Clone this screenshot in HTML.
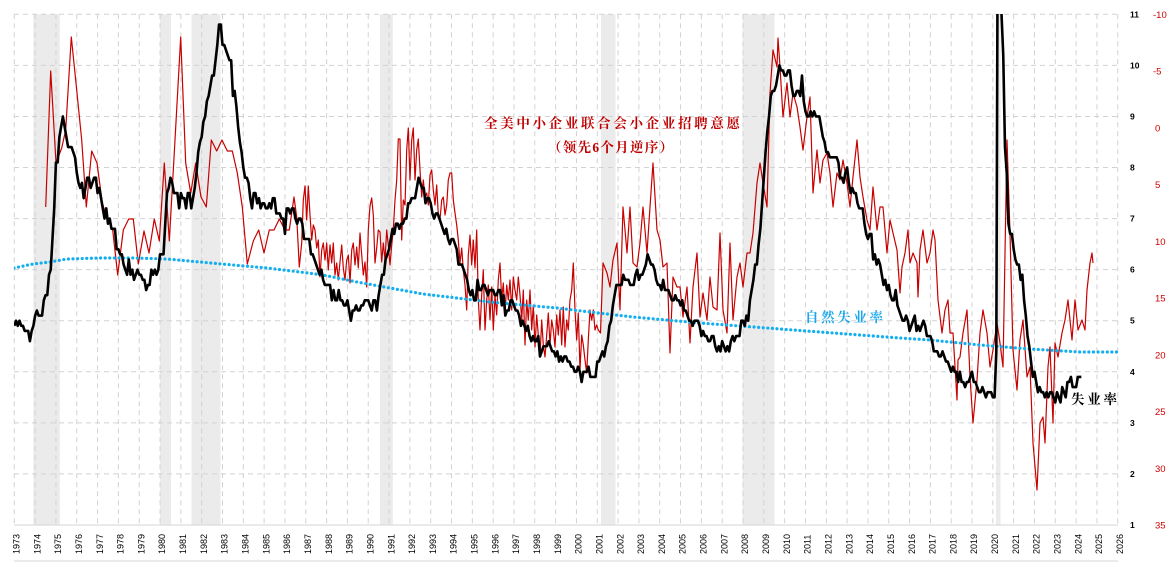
<!DOCTYPE html>
<html>
<head>
<meta charset="utf-8">
<style>
  html,body{margin:0;padding:0;background:#fff;}
  svg{display:block;}
  .yr{font-family:"Liberation Sans",sans-serif;font-size:9px;fill:#000;}
  .lb{font-family:"Liberation Sans",sans-serif;font-size:8.5px;font-weight:bold;fill:#000;}
  .rb{font-family:"Liberation Sans",sans-serif;font-size:9.5px;fill:#d00000;}
  .cn{font-family:"Liberation Serif","Noto Serif CJK SC",serif;font-weight:bold;}
</style>
</head>
<body>
<svg id="chart" width="1176" height="571" viewBox="0 0 1176 571" xmlns="http://www.w3.org/2000/svg">
  <defs>
    <clipPath id="plot"><rect x="14" y="14" width="1104" height="511"/></clipPath>
  </defs>
  <g id="bands"></g>
  <g id="grid"></g>
  <g id="axes"></g>
  <g clip-path="url(#plot)">
    <polyline id="red" fill="none" stroke="#c80000" stroke-width="1.2" stroke-linejoin="round"/>
    <polyline id="blue" fill="none" stroke="#12aff0" stroke-width="3.2" stroke-linecap="round" stroke-dasharray="0 4.6"/>
    <polyline id="black" fill="none" stroke="#000" stroke-width="2.6" stroke-linejoin="round"/>
  </g>
  <text class="cn" x="484" y="128" font-size="13.5" fill="#c00000" textLength="256" lengthAdjust="spacing">全美中小企业联合会小企业招聘意愿</text>
  <text class="cn" x="548" y="152" font-size="13.5" fill="#c00000" textLength="125" lengthAdjust="spacing">（领先6个月逆序）</text>
  <text class="cn" x="805" y="322" font-size="13.5" fill="#1ca8e8" textLength="78" lengthAdjust="spacing">自然失业率</text>
  <text class="cn" x="1071" y="404" font-size="13.5" fill="#000" textLength="46" lengthAdjust="spacing">失业率</text>
</svg>
<script>
(function(){
  var NS="http://www.w3.org/2000/svg";
  var X0=14.3, XS=20.82, Y0=525, YS=51.07;
  function xt(t){return X0+(t-1973)*XS;}
  function yu(u){return Y0-(u-1)*YS;}
  function el(tag,attrs,parent,txt){
    var e=document.createElementNS(NS,tag);
    for(var k in attrs){e.setAttribute(k,attrs[k]);}
    if(txt!==undefined){e.textContent=txt;}
    parent.appendChild(e);return e;
  }
  // recession bands
  var bands=[[33.4,59.8],[160,171],[191.5,220.5],[380,392.8],[601,615.5],[742.5,774.5],[996,1000.5]];
  var gb=document.getElementById("bands");
  bands.forEach(function(b){el("rect",{x:b[0],y:14.3,width:b[1]-b[0],height:525-14.3,fill:"#ebebeb"},gb);});
  // grid
  var gg=document.getElementById("grid");
  for(var i=0;i<=53;i++){
    var x=(X0+i*XS).toFixed(2);
    el("line",{x1:x,y1:14.3,x2:x,y2:525,stroke:"#d2d2d2","stroke-width":1,"stroke-dasharray":"5 4"},gg);
  }
  for(var u=2;u<=11;u++){
    var y=yu(u).toFixed(2);
    el("line",{x1:14,y1:y,x2:1118,y2:y,stroke:"#d2d2d2","stroke-width":1,"stroke-dasharray":"5 4"},gg);
  }
  var ga=document.getElementById("axes");
  el("line",{x1:14,y1:525,x2:1118,y2:525,stroke:"#d6d6d6","stroke-width":1},ga);
  el("line",{x1:14,y1:561,x2:1118,y2:561,stroke:"#d6d6d6","stroke-width":1},ga);
  // year labels
  for(var i=0;i<=53;i++){
    var x=X0+i*XS+5.2;
    el("text",{"class":"yr",x:0,y:0,transform:"translate("+x.toFixed(2)+",554) rotate(-90)"},ga,String(1973+i));
  }
  // left (black) axis labels
  for(var u=1;u<=11;u++){
    el("text",{"class":"lb",x:1130,y:(yu(u)+3).toFixed(2)},ga,String(u));
  }
  // right (red) axis labels
  for(var v=-10;v<=35;v+=5){
    var y=14.3+(v+10)*11.353;
    el("text",{"class":"rb",x:(v<0?1153:1155),y:(y+3.5).toFixed(2)},ga,String(v));
  }
  // unemployment data
  var U={
1973:"4.9 5.0 4.9 5.0 4.9 4.9 4.8 4.8 4.8 4.6 4.8 4.9",
1974:"5.1 5.2 5.1 5.1 5.1 5.4 5.5 5.5 5.9 6.0 6.6 7.2",
1975:"8.1 8.1 8.6 8.8 9.0 8.8 8.6 8.4 8.4 8.4 8.3 8.2",
1976:"7.9 7.7 7.6 7.7 7.4 7.6 7.8 7.8 7.6 7.7 7.8 7.8",
1977:"7.5 7.6 7.4 7.2 7.0 7.2 6.9 7.0 6.8 6.8 6.8 6.4",
1978:"6.4 6.3 6.3 6.1 6.0 5.9 6.2 5.9 6.0 5.8 5.9 6.0",
1979:"5.9 5.9 5.8 5.8 5.6 5.7 5.7 6.0 5.9 6.0 5.9 6.0",
1980:"6.3 6.3 6.3 6.9 7.5 7.6 7.8 7.7 7.5 7.5 7.5 7.2",
1981:"7.5 7.4 7.4 7.2 7.5 7.5 7.2 7.4 7.6 7.9 8.3 8.5",
1982:"8.6 8.9 9.0 9.3 9.4 9.6 9.8 9.8 10.1 10.4 10.8 10.8",
1983:"10.4 10.4 10.3 10.2 10.1 10.1 9.4 9.5 9.2 8.8 8.5 8.3",
1984:"8.0 7.8 7.8 7.7 7.4 7.2 7.5 7.5 7.3 7.4 7.2 7.3",
1985:"7.3 7.2 7.2 7.3 7.2 7.4 7.4 7.1 7.1 7.1 7.0 7.0",
1986:"6.7 7.2 7.2 7.1 7.2 7.2 7.0 6.9 7.0 7.0 6.9 6.6",
1987:"6.6 6.6 6.6 6.3 6.3 6.2 6.1 6.0 5.9 6.0 5.8 5.7",
1988:"5.7 5.7 5.7 5.4 5.6 5.4 5.4 5.6 5.4 5.4 5.3 5.3",
1989:"5.4 5.2 5.0 5.2 5.2 5.3 5.2 5.2 5.3 5.3 5.4 5.4",
1990:"5.4 5.3 5.2 5.4 5.4 5.2 5.5 5.7 5.9 5.9 6.2 6.3",
1991:"6.4 6.6 6.8 6.7 6.9 6.9 6.8 6.9 6.9 7.0 7.0 7.3",
1992:"7.3 7.4 7.4 7.4 7.6 7.8 7.7 7.6 7.6 7.3 7.4 7.4",
1993:"7.3 7.1 7.0 7.1 7.1 7.0 6.9 6.8 6.7 6.8 6.6 6.5",
1994:"6.6 6.6 6.5 6.4 6.1 6.1 6.1 6.0 5.9 5.8 5.6 5.5",
1995:"5.6 5.4 5.4 5.8 5.6 5.6 5.7 5.7 5.6 5.5 5.6 5.6",
1996:"5.6 5.5 5.5 5.6 5.6 5.3 5.5 5.1 5.2 5.2 5.4 5.4",
1997:"5.3 5.2 5.2 5.1 4.9 5.0 4.9 4.8 4.9 4.7 4.6 4.7",
1998:"4.6 4.6 4.7 4.3 4.4 4.5 4.5 4.5 4.6 4.5 4.4 4.4",
1999:"4.3 4.4 4.2 4.3 4.2 4.3 4.3 4.2 4.2 4.1 4.1 4.0",
2000:"4.0 4.1 4.0 3.8 4.0 4.0 4.0 4.1 3.9 3.9 3.9 3.9",
2001:"4.2 4.2 4.3 4.4 4.3 4.5 4.6 4.9 5.0 5.3 5.5 5.7",
2002:"5.7 5.7 5.7 5.9 5.8 5.8 5.8 5.7 5.7 5.7 5.9 6.0",
2003:"5.8 5.9 5.9 6.0 6.1 6.3 6.2 6.1 6.1 6.0 5.8 5.7",
2004:"5.7 5.6 5.8 5.6 5.6 5.6 5.5 5.4 5.4 5.5 5.4 5.4",
2005:"5.3 5.4 5.2 5.2 5.1 5.0 5.0 4.9 5.0 5.0 5.0 4.9",
2006:"4.7 4.8 4.7 4.7 4.6 4.6 4.7 4.7 4.5 4.4 4.5 4.4",
2007:"4.6 4.5 4.4 4.5 4.4 4.6 4.7 4.6 4.7 4.7 4.7 5.0",
2008:"5.0 4.9 5.1 5.0 5.4 5.6 5.8 6.1 6.1 6.5 6.8 7.3",
2009:"7.8 8.3 8.7 9.0 9.4 9.5 9.5 9.6 9.8 10.0 9.9 9.9",
2010:"9.8 9.8 9.9 9.9 9.6 9.4 9.4 9.5 9.5 9.4 9.8 9.3",
2011:"9.1 9.0 9.0 9.1 9.0 9.1 9.0 9.0 9.0 8.8 8.6 8.5",
2012:"8.3 8.3 8.2 8.2 8.2 8.2 8.2 8.1 7.8 7.8 7.7 7.9",
2013:"8.0 7.7 7.5 7.6 7.5 7.5 7.3 7.2 7.2 7.2 6.9 6.7",
2014:"6.6 6.7 6.7 6.2 6.3 6.1 6.2 6.1 5.9 5.7 5.8 5.6",
2015:"5.7 5.5 5.4 5.4 5.6 5.3 5.2 5.1 5.0 5.0 5.1 5.0",
2016:"4.8 4.9 5.0 5.1 4.8 4.9 4.8 4.9 5.0 4.9 4.7 4.7",
2017:"4.7 4.6 4.4 4.4 4.4 4.3 4.3 4.4 4.3 4.2 4.2 4.1",
2018:"4.0 4.1 4.0 4.0 3.8 4.0 3.8 3.8 3.7 3.8 3.8 3.9",
2019:"4.0 3.8 3.8 3.7 3.6 3.6 3.7 3.6 3.5 3.6 3.6 3.6",
2020:"3.5 3.5 4.4 14.8 13.2 11.0 10.2 8.4 7.9 6.9 6.7 6.7",
2021:"6.4 6.2 6.1 6.1 5.8 5.9 5.4 5.1 4.7 4.5 4.2 3.9",
2022:"4.0 3.8 3.6 3.7 3.6 3.6 3.5 3.6 3.5 3.6 3.6 3.5",
2023:"3.4 3.6 3.5 3.4 3.7 3.6 3.5 3.8 3.8 3.9 3.7 3.7",
2024:"3.7 3.9 3.9 3.9"
  };
  var pts=[];
  for(var yr=1973;yr<=2024;yr++){
    var vals=U[yr].split(" ");
    for(var m=0;m<vals.length;m++){
      var t=yr+m/12;
      pts.push(xt(t).toFixed(2)+","+yu(parseFloat(vals[m])).toFixed(2));
    }
  }
  document.getElementById("black").setAttribute("points",pts.join(" "));

  // NFIB hiring plans (pixel-traced)
  var R=[[45.7,207],[50.7,71],[56,163],[61.7,148],[65.7,130],[71.3,37],[76.7,90],[81.7,140],[86.3,207],[91.7,151],[97,163],[102.3,203],[107.3,219],[112.7,230],[117.7,275],[123.3,230],[128.7,219],[133.3,219],[138.3,264],[144,231],[149,253],[154.3,219],[159.3,241],[164.3,163],[169.3,241],[175,140],[180.7,37],[185.7,163],[190.7,193],[195.7,163],[201,197],[206.3,207],[211.3,140],[216.7,151],[222,140],[227.3,151],[232.3,151],[237.3,173],[242.3,207],[247.3,264],[253.3,241],[258.7,230],[264,253],[269.3,230],[274,230],[279.3,219],[285,230],[289.3,230],[294,197],[296.7,217],[299.3,267],
[301.7,243],[303.3,200],[305,186],[306.7,220],[308.3,186],[310,215],[311.7,240],[313.3,225],[315,230],[316.7,248],[318.3,240],[320,277],[321.7,250],[323.3,243],[325,260],[326.7,243],[328.3,270],[330,245],[331.7,263],[333.3,243],[335,275],[336.7,263],[338.3,280],[340,262],[341.7,245],[343.3,268],[345,280],[346.7,260],[348.3,255],[350,283],[351.7,250],[353.3,243],[355,265],[356.7,247],[358.3,268],[360,233],[361.7,255],[363.3,275],[365,262],[366.7,287],[368.3,230],[370,206],[371.7,198],[373.3,215],[375,263],[376.7,248],[378.3,230],[380,232],[381.7,262],[383.3,243],[385,260],[386.7,230],[388.3,245],[390,265],[391.7,245],[393.3,230],[395,200],[396.7,180],[398.3,139],[400,139],[401.7,240],[403.3,200],[405,205],[406.7,150],[408.3,128],[410,180],[411.7,140],[413.3,128],[415,180],[416.7,150],[418.3,139],[420,170],[421.7,197],[423.3,180],[425,197],[426.7,193],[428.3,205],[430,175],[431.7,170],[433.3,190],[435,205],[436.7,185],[438.3,215],[440,220],[441.7,200],[443.3,197],[445,215],[446.7,205],[448.3,180],[450,173],[451.7,173],[453.3,200],[455,213],[456.7,225],[458.3,240],[460,263],[461.7,248],[463.3,270],[465,285],[466.7,310],[468.3,255],[470,235],[471.7,265],[473.3,240],[475,268],[476.7,230],[478.3,300],[480,330],[481.7,295],[483.3,270],[485,330],[486.7,300],[488.3,285],[490,320],[491.7,287],[493.3,330],[495,295],[496.7,315],[498.3,280],[500,263],[501.7,300],[503.3,283],[505,313],[506.7,285],[508.3,300],[510,280],[511.7,310],[513.3,277],[515,290],[516.7,300],[518.3,277],[520,295],[521.7,320],[523.3,290],[525,345],[526.7,300],[528.3,320],[530,290],[531.7,330],[533.3,305],[535,347],[536.7,315],[538.3,335],[540,357],[541.7,320],[543.3,345],[545,357],[546.7,335],[548.3,313],[550,345],[551.7,320],[553.3,330],[555,347],[556.7,315],[558.3,335],[560,310],[561.7,345],[563.3,307],[565,347],[566.7,320],[568.3,330],[570,300],[571.7,290],[573.3,263],[575,310],[576.7,340],[578.3,313],[580,370],[581.7,335],[583.3,345],[585,360],[586.7,373],[588.3,340],[590,310],[591.7,320],[593.3,310],[595,330],[596.7,325],[598.3,330],[600.5,333],
[603,263],[607,273],[610,287],[613,260],[617,243],[620,310],[623,207],[627,253],[630,207],[633,263],[637,267],[640,243],[643,207],[647,253],[650,207],[653,163],[657,230],[660,240],[663,267],[667,263],[670,353],[673,277],[677,287],[680,287],[683,317],[687,287],[690,343],[693,287],[697,253],[700,317],[703,293],[707,320],[710,277],[713,307],[717,310],[720,233],[723,310],[727,333],[730,243],[733,320],[737,277],[740,263],[743,287],[747,253],[750,253],[753,233],[757,183],[760,163],[763,183],[767,207],[770,93],[773,50],[777,67],[778,38],[780,67],[783,117],[787,83],[790,117],[793,93],[797,107],[800,127],[803,150],[807,117],[810,97],[813,193],[817,150],[820,183],[823,160],[827,153],[830,173],[833,207],[837,173],[840,180],[843,160],[847,183],[850,207],[853,177],[857,140],[860,177],[863,197],[867,220],[870,230],[873,187],[877,230],[880,207],[883,207],[887,253],[890,220],[893,233],[897,250],
[900,293],[902,267],[905,253],[908,230],[910,263],[913,253],[917,263],[918,297],[920,250],[923,230],[927,263],[930,253],[933,230],[935,240],[938,300],[942,333],[945,310],[948,300],[950,333],[953,333],[957,400],[958,360],[960,357],[963,333],[967,310],[970,377],[973,423],[977,380],[980,333],[983,310],[987,333],[990,367],[993,350],[997,323],[1000,343],[1003,367],[1007,140],[1010,233],[1013,350],[1017,390],[1020,340],[1023,320],[1027,377],[1030,367],[1033,443],[1037,490],[1040,423],[1043,417],[1045,443],[1048,367],[1050,347],[1053,423],[1055,343],[1058,357],[1062,333],[1065,320],[1068,300],[1072,340],[1075,300],[1078,330],[1082,320],[1085,330],[1087,290],[1090,263],[1092,253],[1093,263]];
  document.getElementById("red").setAttribute("points",R.map(function(p){return p[0]+","+p[1];}).join(" "));

  var B=[[14,268],[33,264],[50,262],[67,259],[100,258],[133,258],[167,259],[200,262],[233,265],[267,268],[300,272],[323,275],[357,282],[390,288],[423,294],[457,298],[490,302],[523,305],[557,308],[590,312],[633,317],[700,323],[767,328],[833,333],[900,338],[930,340],[980,345],[1030,349],[1080,352],[1117,352]];
  document.getElementById("blue").setAttribute("points",B.map(function(p){return p[0]+","+p[1];}).join(" "));
})();
</script>
</body>
</html>
